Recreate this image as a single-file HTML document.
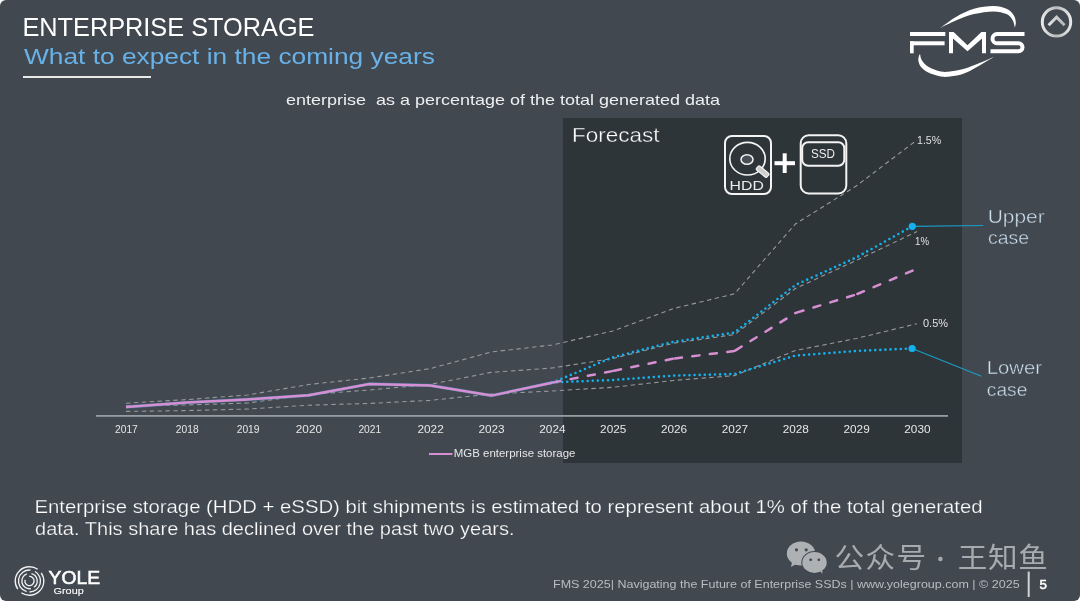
<!DOCTYPE html>
<html><head><meta charset="utf-8"><title>Enterprise Storage</title>
<style>
html,body{margin:0;padding:0;background:#ffffff;}
body{width:1080px;height:601px;overflow:hidden;font-family:"Liberation Sans",Arial,sans-serif;}
#slide{position:absolute;left:0;top:0;width:1080px;height:601px;background:#424850;border-radius:6px;overflow:hidden;}
svg{position:absolute;left:0;top:0;}
svg text{font-family:"Liberation Sans",Arial,sans-serif;}
</style></head><body>
<div id="slide">
<svg width="1080" height="601" viewBox="0 0 1080 601">
<rect x="563" y="118" width="399" height="345" fill="#2e3538"/>
<text x="22.4" y="36" font-size="25" fill="#ffffff" textLength="292.1" lengthAdjust="spacingAndGlyphs" >ENTERPRISE STORAGE</text>
<text x="24" y="64" font-size="22.3" fill="#68b2e8" textLength="410.8" lengthAdjust="spacingAndGlyphs" >What to expect in the coming years</text>
<rect x="23" y="76" width="128" height="2" fill="#e8e8e8"/>
<text x="286" y="104.5" font-size="15" fill="#eeeeee" textLength="434" lengthAdjust="spacingAndGlyphs" >enterprise&#160; as a percentage of the total generated data</text>
<text x="572" y="142" font-size="19.8" fill="#ffffff" textLength="87.5" lengthAdjust="spacingAndGlyphs" stroke="#2e3538" stroke-width="0.35">Forecast</text>
<rect x="96" y="415" width="852" height="1.8" fill="#959ca3"/>
<text x="126.4" y="433" font-size="10.5" fill="#e6e6e6" textLength="22.8" lengthAdjust="spacingAndGlyphs" text-anchor="middle" >2017</text>
<text x="187.20000000000002" y="433" font-size="10.5" fill="#e6e6e6" textLength="22.8" lengthAdjust="spacingAndGlyphs" text-anchor="middle" >2018</text>
<text x="248.1" y="433" font-size="10.5" fill="#e6e6e6" textLength="22.8" lengthAdjust="spacingAndGlyphs" text-anchor="middle" >2019</text>
<text x="308.9" y="433" font-size="10.5" fill="#e6e6e6" textLength="26.2" lengthAdjust="spacingAndGlyphs" text-anchor="middle" >2020</text>
<text x="369.79999999999995" y="433" font-size="10.5" fill="#e6e6e6" textLength="22.8" lengthAdjust="spacingAndGlyphs" text-anchor="middle" >2021</text>
<text x="430.59999999999997" y="433" font-size="10.5" fill="#e6e6e6" textLength="26.2" lengthAdjust="spacingAndGlyphs" text-anchor="middle" >2022</text>
<text x="491.5" y="433" font-size="10.5" fill="#e6e6e6" textLength="26.2" lengthAdjust="spacingAndGlyphs" text-anchor="middle" >2023</text>
<text x="552.4" y="433" font-size="10.5" fill="#e6e6e6" textLength="26.2" lengthAdjust="spacingAndGlyphs" text-anchor="middle" >2024</text>
<text x="613.1999999999999" y="433" font-size="10.5" fill="#e6e6e6" textLength="26.2" lengthAdjust="spacingAndGlyphs" text-anchor="middle" >2025</text>
<text x="674.0" y="433" font-size="10.5" fill="#e6e6e6" textLength="26.2" lengthAdjust="spacingAndGlyphs" text-anchor="middle" >2026</text>
<text x="734.9" y="433" font-size="10.5" fill="#e6e6e6" textLength="26.2" lengthAdjust="spacingAndGlyphs" text-anchor="middle" >2027</text>
<text x="795.8" y="433" font-size="10.5" fill="#e6e6e6" textLength="26.2" lengthAdjust="spacingAndGlyphs" text-anchor="middle" >2028</text>
<text x="856.6" y="433" font-size="10.5" fill="#e6e6e6" textLength="26.2" lengthAdjust="spacingAndGlyphs" text-anchor="middle" >2029</text>
<text x="917.4" y="433" font-size="10.5" fill="#e6e6e6" textLength="26.2" lengthAdjust="spacingAndGlyphs" text-anchor="middle" >2030</text>
<polyline points="126.0,403.2 186.8,399.6 247.7,395.0 308.5,384.5 369.4,378.0 430.2,368.6 491.1,352.0 552.0,345.0 612.8,331.0 673.6,308.5 734.5,293.8 795.4,224.0 856.2,186.0 917.0,140.0" fill="none" stroke="#96999c" stroke-width="1.1" stroke-dasharray="4.4 3.5"/>
<polyline points="126.0,405.8 186.8,405.0 247.7,403.0 308.5,394.6 369.4,390.0 430.2,384.4 491.1,372.4 552.0,368.0 612.8,358.5 673.6,343.2 734.5,334.6 795.4,288.5 856.2,260.5 917.0,231.6" fill="none" stroke="#96999c" stroke-width="1.1" stroke-dasharray="4.4 3.5"/>
<polyline points="126.0,411.4 186.8,410.6 247.7,409.0 308.5,405.2 369.4,403.4 430.2,400.4 491.1,394.0 552.0,391.0 612.8,387.3 673.6,380.5 734.5,375.6 795.4,350.5 856.2,338.5 917.0,323.7" fill="none" stroke="#96999c" stroke-width="1.1" stroke-dasharray="4.4 3.5"/>
<polyline points="552.0,382.8 612.8,357.3 673.6,341.8 734.5,332.6 795.4,285.0 856.2,257.5 912.3,226.3" fill="none" stroke="#14b1ee" stroke-width="2.6" stroke-dasharray="0 5.1" stroke-linecap="round"/>
<polyline points="552.0,382.4 612.8,380.0 673.6,375.6 734.5,374.0 795.4,355.6 856.2,351.0 912.1,348.4" fill="none" stroke="#14b1ee" stroke-width="2.6" stroke-dasharray="0 5.1" stroke-linecap="round"/>
<polyline points="126.0,407.0 186.8,402.6 247.7,399.4 308.5,395.3 369.4,384.0 430.2,385.4 491.5,395.6 552.0,382.7" fill="none" stroke="#3d8fc0" stroke-width="3.3" stroke-linejoin="round" opacity="0.6"/>
<polyline points="126.0,407.0 186.8,402.6 247.7,399.4 308.5,395.3 369.4,384.0 430.2,385.4 491.5,395.6 552.0,382.7" fill="none" stroke="#d78fd3" stroke-width="2.5" stroke-linejoin="round"/>
<line x1="552" y1="382.7" x2="612.8" y2="371" stroke="#d78fd3" stroke-width="2.5" stroke-dasharray="7.2 10.4" stroke-dashoffset="-1.25" stroke-linecap="round"/>
<line x1="612.8" y1="371" x2="673.6" y2="358.6" stroke="#d78fd3" stroke-width="2.5" stroke-dasharray="7.2 10.4" stroke-dashoffset="-1.25" stroke-linecap="round"/>
<line x1="673.6" y1="358.6" x2="734.5" y2="351" stroke="#d78fd3" stroke-width="2.5" stroke-dasharray="7.2 10.4" stroke-dashoffset="-1.25" stroke-linecap="round"/>
<line x1="734.5" y1="351" x2="795.4" y2="313" stroke="#d78fd3" stroke-width="2.5" stroke-dasharray="7.2 10.4" stroke-dashoffset="-1.25" stroke-linecap="round"/>
<line x1="795.4" y1="313" x2="856.2" y2="294.5" stroke="#d78fd3" stroke-width="2.5" stroke-dasharray="7.2 10.4" stroke-dashoffset="-1.25" stroke-linecap="round"/>
<line x1="856.2" y1="294.5" x2="914.6" y2="269.8" stroke="#d78fd3" stroke-width="2.5" stroke-dasharray="7.2 10.4" stroke-dashoffset="-1.25" stroke-linecap="round"/>
<line x1="912.3" y1="226.3" x2="983.2" y2="225.5" stroke="#1a9cc6" stroke-width="1.2"/>
<line x1="912.1" y1="348.5" x2="981.5" y2="376.2" stroke="#1a9cc6" stroke-width="1.2"/>
<circle cx="912.3" cy="226.3" r="3.6" fill="#14b1ee"/>
<circle cx="912.1" cy="348.5" r="3.6" fill="#14b1ee"/>
<text x="917" y="144" font-size="11.5" fill="#e0e0e0" textLength="24.2" lengthAdjust="spacingAndGlyphs" >1.5%</text>
<text x="915" y="245" font-size="11.5" fill="#e0e0e0" textLength="14" lengthAdjust="spacingAndGlyphs" >1%</text>
<text x="923" y="327.2" font-size="11.5" fill="#e0e0e0" textLength="25" lengthAdjust="spacingAndGlyphs" >0.5%</text>
<text x="987.8" y="223" font-size="18.2" fill="#cde0ee" textLength="56.8" lengthAdjust="spacingAndGlyphs" stroke="#424850" stroke-width="0.4">Upper</text>
<text x="988" y="244.4" font-size="18.2" fill="#cde0ee" textLength="41" lengthAdjust="spacingAndGlyphs" stroke="#424850" stroke-width="0.4">case</text>
<text x="986.8" y="374.1" font-size="18.2" fill="#cde0ee" textLength="55.2" lengthAdjust="spacingAndGlyphs" stroke="#424850" stroke-width="0.4">Lower</text>
<text x="986.8" y="395.5" font-size="18.2" fill="#cde0ee" textLength="40.6" lengthAdjust="spacingAndGlyphs" stroke="#424850" stroke-width="0.4">case</text>
<rect x="429" y="453" width="23.4" height="2" fill="#d78fd3"/>
<text x="453.8" y="457" font-size="10.3" fill="#e6e6e6" textLength="121.6" lengthAdjust="spacingAndGlyphs" >MGB enterprise storage</text>
<text x="34.45" y="513.25" font-size="17.5" fill="#ffffff" textLength="948.1" lengthAdjust="spacingAndGlyphs" stroke="#424850" stroke-width="0.25">Enterprise storage (HDD + eSSD) bit shipments is estimated to represent about 1% of the total generated</text>
<text x="35" y="535" font-size="17.5" fill="#ffffff" textLength="479.6" lengthAdjust="spacingAndGlyphs" stroke="#424850" stroke-width="0.25">data. This share has declined over the past two years.</text>
<text x="553" y="588.3" font-size="11.2" fill="#b9bdc1" textLength="466.6" lengthAdjust="spacingAndGlyphs" >FMS 2025| Navigating the Future of Enterprise SSDs | www.yolegroup.com | © 2025</text>
<rect x="1027.7" y="571.6" width="2" height="25.4" fill="#d0d2d4"/>
<text x="1039.6" y="589.2" font-size="13.4" fill="#ffffff" textLength="7.4" lengthAdjust="spacingAndGlyphs" stroke="#ffffff" stroke-width="0.5">5</text>
<g transform="matrix(1 0 0 0.945 0 30.030)">
<text x="834.4" y="569.0" font-size="29.6" fill="#a8abae" font-weight="400" style='font-family:"Liberation Sans", "Noto Sans CJK SC", sans-serif' >公</text>
<text x="865.4" y="569.0" font-size="29.6" fill="#a8abae" font-weight="400" style='font-family:"Liberation Sans", "Noto Sans CJK SC", sans-serif' >众</text>
<text x="896.5" y="569.0" font-size="29.6" fill="#a8abae" font-weight="400" style='font-family:"Liberation Sans", "Noto Sans CJK SC", sans-serif' >号</text>
<text x="957.7" y="569.0" font-size="29.6" fill="#a8abae" font-weight="400" style='font-family:"Liberation Sans", "Noto Sans CJK SC", sans-serif' >王</text>
<text x="988" y="569.0" font-size="29.6" fill="#a8abae" font-weight="400" style='font-family:"Liberation Sans", "Noto Sans CJK SC", sans-serif' >知</text>
<text x="1018.2" y="569.0" font-size="29.6" fill="#a8abae" font-weight="400" style='font-family:"Liberation Sans", "Noto Sans CJK SC", sans-serif' >鱼</text>
</g>
<circle cx="940.4" cy="559" r="2.2" fill="#a8abae"/>
<text x="48.6" y="584.3" font-size="18.3" fill="#ffffff" textLength="51.4" lengthAdjust="spacingAndGlyphs" stroke="#ffffff" stroke-width="0.55">YOLE</text>
<text x="53.6" y="594.2" font-size="9.5" fill="#ffffff" textLength="30.1" lengthAdjust="spacingAndGlyphs" stroke="#ffffff" stroke-width="0.12">Group</text>
<rect x="725" y="136" width="46" height="58" rx="7" fill="none" stroke="#f4f4f4" stroke-width="2"/>
<ellipse cx="747.5" cy="158.7" rx="17.7" ry="16.3" fill="none" stroke="#f4f4f4" stroke-width="1.6"/>
<ellipse cx="747" cy="159.5" rx="6" ry="4.8" fill="#4a4f57" stroke="#f4f4f4" stroke-width="1.5"/>
<rect x="-6.8" y="-2.5" width="13.6" height="5" rx="1.3" fill="#cfcfcf" stroke="#f4f4f4" stroke-width="1.2" transform="translate(762.6,171.6) rotate(40)"/>
<text x="729.6" y="190.4" font-size="12.5" fill="#ececec" textLength="34.2" lengthAdjust="spacingAndGlyphs" >HDD</text>
<rect x="774.5" y="161.2" width="20.5" height="4" fill="#ffffff"/>
<rect x="782.7" y="153.3" width="4" height="19.7" fill="#ffffff"/>
<rect x="800.7" y="135.3" width="45.6" height="58.2" rx="8" fill="none" stroke="#f4f4f4" stroke-width="2"/>
<rect x="802.2" y="142.3" width="42.1" height="23.5" rx="6" fill="none" stroke="#f4f4f4" stroke-width="2"/>
<text x="823" y="158.3" font-size="12.5" fill="#ececec" textLength="24" lengthAdjust="spacingAndGlyphs" text-anchor="middle" >SSD</text>
<g fill="#ffffff"><rect x="910" y="32" width="35.3" height="4"/><rect x="910" y="41.3" width="34.6" height="4"/><rect x="910" y="41.3" width="3.7" height="12"/><path d="M949,32 H953.6 L967.5,45.2 L981.4,32 H986 V53.3 H982 V38.4 L967.5,51.2 L953,38.4 V53.3 H949 Z"/><path d="M940.10,28.00 C942.82,26.12 950.75,19.90 956.40,16.70 C962.05,13.50 967.85,10.58 974.00,8.80 C980.15,7.02 987.88,6.00 993.30,6.00 C998.72,6.00 1003.12,7.30 1006.50,8.80 C1009.88,10.30 1012.05,12.80 1013.60,15.00 C1015.15,17.20 1015.58,19.88 1015.80,22.00 C1016.02,24.12 1015.05,26.75 1014.90,27.70 C1014.53,26.45 1014.10,22.47 1012.70,20.20 C1011.30,17.93 1009.73,15.57 1006.50,14.10 C1003.27,12.63 998.72,11.40 993.30,11.40 C987.88,11.40 980.15,12.63 974.00,14.10 C967.85,15.57 962.05,17.88 956.40,20.20 C950.75,22.52 942.82,26.70 940.10,28.00 Z"/><path d="M919.40,54.40 C919.22,55.33 918.07,57.95 918.30,60.00 C918.53,62.05 919.13,64.62 920.80,66.70 C922.47,68.78 924.97,70.87 928.30,72.50 C931.63,74.13 936.90,75.87 940.80,76.50 C944.70,77.13 947.12,77.10 951.70,76.30 C956.28,75.50 961.27,74.90 968.30,71.70 C975.33,68.50 989.63,59.53 993.90,57.10 C989.63,58.83 975.33,65.13 968.30,67.50 C961.27,69.87 956.28,70.63 951.70,71.30 C947.12,71.97 944.70,72.27 940.80,71.50 C936.90,70.73 931.48,68.62 928.30,66.70 C925.12,64.78 923.05,62.02 921.70,60.00 C920.35,57.98 920.45,55.50 920.20,54.60 Z"/></g>
<path d="M1024.5,34 H997.15 A4.65,4.65 0 0 0 997.15,43.3 H1018.5 A4,4 0 0 1 1018.5,51.3 H990.5" fill="none" stroke="#ffffff" stroke-width="4"/>
<defs><linearGradient id="ring" x1="0" y1="0" x2="1" y2="0"><stop offset="0" stop-color="#e6e6e6"/><stop offset="0.5" stop-color="#b9bbbd"/><stop offset="1" stop-color="#e6e6e6"/></linearGradient><linearGradient id="chev" x1="0" y1="0" x2="1" y2="0"><stop offset="0" stop-color="#e2e2e2"/><stop offset="1" stop-color="#b4b6b8"/></linearGradient></defs>
<circle cx="1056.5" cy="21.9" r="14.2" fill="none" stroke="url(#ring)" stroke-width="3"/>
<polyline points="1048.6,25.2 1056.6,17.2 1064.6,25.2" fill="none" stroke="url(#chev)" stroke-width="3"/>
<path d="M41.21,572.80 A14.3,14.3 0 0 1 21.30,592.71 M17.79,589.20 A14.3,14.3 0 0 1 37.70,569.29 M35.00,571.47 A11,11 0 0 1 29.50,592.00 M26.65,591.63 A11,11 0 0 1 30.46,570.04 M31.49,573.56 A7.7,7.7 0 0 1 33.92,587.31 M30.84,588.58 A7.7,7.7 0 0 1 26.87,573.76 M29.10,576.42 A4.6,4.6 0 1 1 25.06,579.81" fill="none" stroke="#f0f0f0" stroke-width="1.35"/>
<g fill="#aeb1b4"><ellipse cx="801" cy="553.5" rx="14.2" ry="12"/><path d="M792,562 L791,567 L797,563.5 Z"/></g>
<ellipse cx="814.5" cy="562.5" rx="13.2" ry="11.4" fill="#424850"/>
<g fill="#aeb1b4"><ellipse cx="814.5" cy="562.5" rx="12.2" ry="10.4"/><path d="M819,570 L822.5,573.8 L822,568 Z"/></g>
<g fill="#424850"><circle cx="796.5" cy="549.8" r="1.6"/><circle cx="806.2" cy="549.8" r="1.6"/><circle cx="810.7" cy="559.8" r="1.4"/><circle cx="818.8" cy="559.8" r="1.4"/></g>
</svg>
</div>
</body></html>
